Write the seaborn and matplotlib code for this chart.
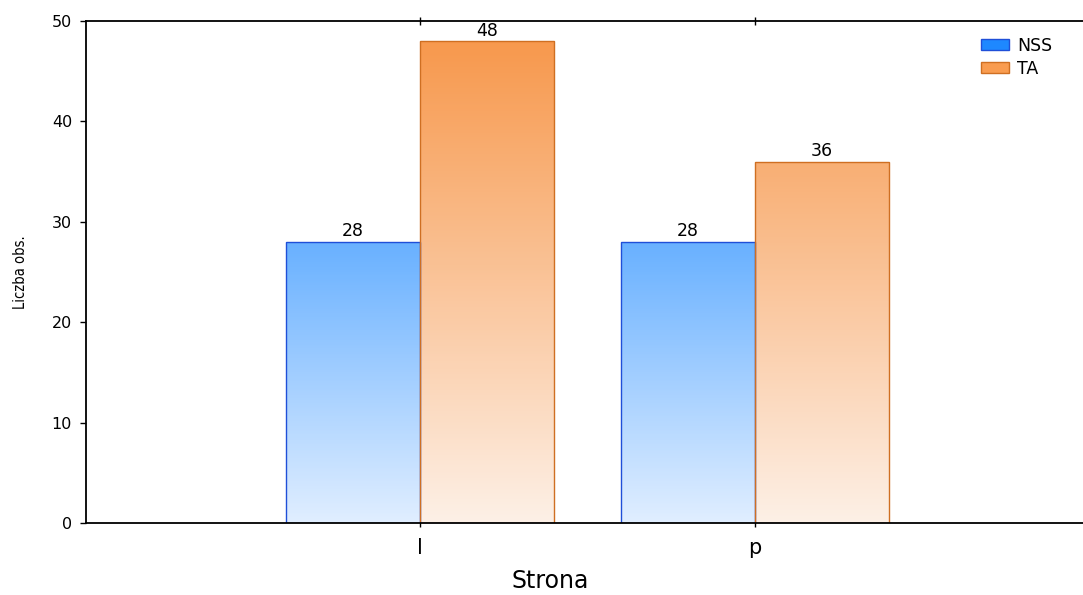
import numpy as np
import pandas as pd
import matplotlib
matplotlib.use("Agg")
import matplotlib.pyplot as plt
from matplotlib.colors import LinearSegmentedColormap
from matplotlib.patches import Patch
import seaborn as sns

# Data
strona = ["l", "p"]
grupy = ["NSS", "TA"]
nss_values = [28, 28]
ta_values = [48, 36]

df = pd.DataFrame({
    "Strona": strona * 2,
    "Grupa": [grupy[0]] * 2 + [grupy[1]] * 2,
    "Liczba obs.": nss_values + ta_values,
})

# Colours: gradient from pale (at 0) to saturated (at the top of the value axis)
grad_colors = {
    "NSS": ("#e0eeff", "#0a80ff"),
    "TA": ("#fdf0e6", "#f79547"),
}
edge_colors = {"NSS": "#1f4fd8", "TA": "#cf6f22"}
legend_colors = {"NSS": "#1e88ff", "TA": "#f99c50"}

sns.set_theme(style="white")
plt.rcParams["font.family"] = ["DejaVu Sans"]
plt.rcParams["text.color"] = "black"
plt.rcParams["axes.labelcolor"] = "black"

fig = plt.figure(figsize=(10.83, 5.95), dpi=100)
ax = fig.add_axes([86 / 1083, 72 / 595, 997 / 1083, 502 / 595])

sns.barplot(
    data=df, x="Strona", y="Liczba obs.", hue="Grupa",
    order=strona, hue_order=grupy,
    palette=[legend_colors[g] for g in grupy],
    width=0.8, legend=False, ax=ax,
)

ymax = 50
ax.set_ylim(0, ymax)
ax.set_xlim(-0.997, 1.979)

# Replace the flat fills with vertical gradients tied to the value axis
for grp, container in zip(grupy, ax.containers):
    cmap = LinearSegmentedColormap.from_list(grp, list(grad_colors[grp]))
    for bar in container:
        x0, w, h = bar.get_x(), bar.get_width(), bar.get_height()
        grad = np.linspace(0, h, 256).reshape(-1, 1)
        img = ax.imshow(grad, extent=[x0, x0 + w, 0, h], origin="lower",
                        cmap=cmap, vmin=0, vmax=ymax, aspect="auto",
                        zorder=1.5)
        img.set_clip_path(bar)
        bar.set_facecolor("none")
        bar.set_edgecolor(edge_colors[grp])
        bar.set_linewidth(1.0)
        bar.set_zorder(2)
    ax.bar_label(container, labels=[f"{v:.0f}" for v in container.datavalues],
                 padding=1, fontsize=12.5, color="black")

ax.set_xlim(-0.997, 1.979)
ax.set_ylim(0, ymax)
ax.set_yticks([0, 10, 20, 30, 40, 50])

# Axis ticks on the group boundaries
ax.set_xticks([0, 1])
ax.set_xticklabels(strona, fontsize=15)
ax.tick_params(axis="y", direction="out", length=4, width=1, labelsize=11.5,
               left=True, pad=6, colors="black")
ax.tick_params(axis="x", direction="inout", length=6, width=1, bottom=True,
               top=True, pad=8, colors="black")
ax.tick_params(axis="x", which="both", labeltop=False)

for side in ["left", "bottom", "top"]:
    ax.spines[side].set_visible(True)
    ax.spines[side].set_color("black")
    ax.spines[side].set_linewidth(1.3)
ax.spines["right"].set_visible(False)

ax.set_xlabel("Strona", fontsize=17, color="black")
ax.xaxis.set_label_coords((550 - 86) / 997, -0.092)
ax.set_ylabel("Liczba obs.", fontsize=10.5, fontstretch="condensed",
              color="black")
ax.yaxis.set_label_coords(-0.058, 0.5)

handles = [Patch(facecolor=legend_colors[g], edgecolor=edge_colors[g],
                 linewidth=1.0, label=g) for g in grupy]
ax.legend(handles=handles, loc="upper left", bbox_to_anchor=(974 / 1083, 0.95),
          bbox_transform=fig.transFigure, frameon=False, fontsize=12.5,
          handlelength=1.6, handleheight=0.6, handletextpad=0.5,
          labelspacing=0.3, borderaxespad=0)

fig.savefig("out.png", dpi=100)
